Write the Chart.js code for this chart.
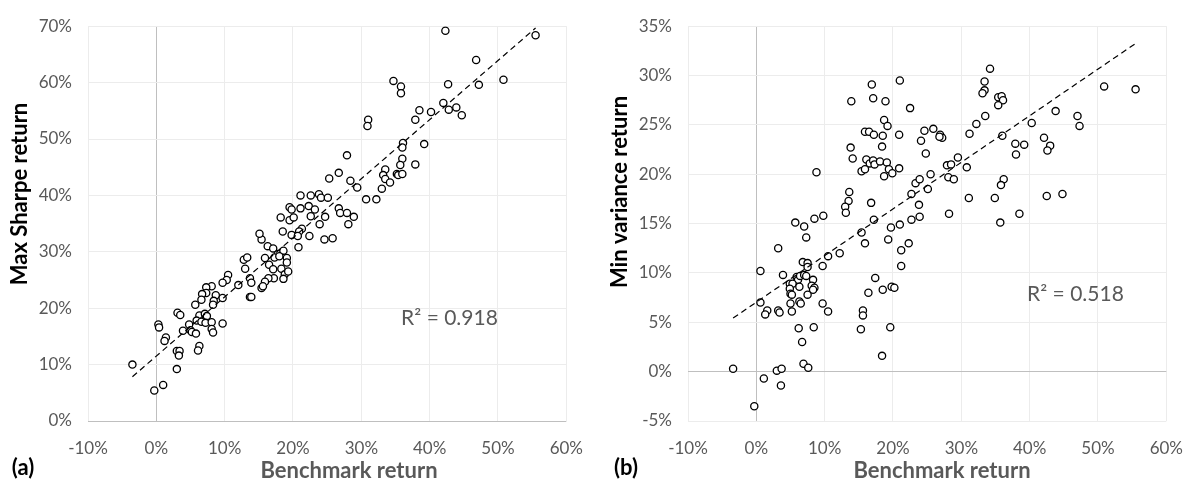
<!DOCTYPE html>
<html>
<head>
<meta charset="utf-8">
<title>Benchmark return vs portfolio return</title>
<script src="https://cdn.jsdelivr.net/npm/chart.js"></script>
<style>
  body { margin: 0; background: #fff; }
  .panel { position: absolute; top: 0; width: 600px; height: 488px; }
</style>
</head>
<body>
<div class="panel" style="left:0"><canvas id="chartA" width="600" height="488"></canvas></div>
<div class="panel" style="left:600px"><canvas id="chartB" width="600" height="488"></canvas></div>
<script>
// all values in percent
var xTicks = [-10, 0, 10, 20, 30, 40, 50, 60];
var yTicksA = [0, 10, 20, 30, 40, 50, 60, 70];
var yTicksB = [-5, 0, 5, 10, 15, 20, 25, 30, 35];

// (a) benchmark return vs max Sharpe return
var sharpeX = [42.3, 55.5, 46.8, 50.8, 42.7, 47.2, 34.7, 35.8, 35.8, 42.0, 42.8, 43.9, 44.7, 38.5, 40.2, 37.9,
  31.0, 30.9, 36.1, 36.0, 39.2, 27.9, 36.0, 35.7, 37.9, 26.7, 25.3, 28.4, 29.4, 33.5, 33.2, 33.5, 35.2, 35.4,
  36.0, 34.2, 33.0, 30.7, 32.2, 23.8, 24.1, 25.1, 26.7, 26.9, 27.9, 28.9, 28.1, 24.7, 23.9, 24.6, 25.8, 21.1,
  22.6, 19.5, 19.8, 21.1, 22.3, 23.2, 18.2, 19.5, 20.1, 22.6, 21.3, 18.5, 19.8, 20.9, 20.7, 22.4, 15.4, 15.1,
  16.3, 17.1, 20.8, 17.8, 17.3, 18.6, 19.1, 15.9, 16.5, 18.0, 19.1, 18.3, 17.1, 18.8, 19.3, 18.6, 17.2, 16.4,
  15.9, 15.4, 15.6, 12.8, 13.3, 13.0, 13.7, 13.9, 12.0, 13.7, 13.9, 10.5, 10.3, 9.7, 8.1, 7.3, 7.3, 6.7, 6.6,
  8.7, 9.7, 8.4, 8.3, 5.7, 3.1, 3.5, 0.3, 0.4, 6.3, 7.1, 7.4, 5.9, 6.6, 7.2, 8.1, 9.7, 4.8, 3.9, 5.0, 5.2,
  5.8, 8.1, 8.3, 1.4, 1.2, 6.3, 6.1, 3.0, 3.4, 3.3, -3.5, 3.0, 1.0, -0.3];
var sharpeY = [69.2, 68.4, 64.0, 60.5, 59.7, 59.6, 60.3, 59.3, 58.1, 56.4, 55.2, 55.6, 54.2, 55.1, 54.8, 53.4,
  53.4, 52.3, 49.3, 48.5, 49.1, 47.1, 46.5, 45.4, 45.5, 44.0, 43.0, 42.6, 41.4, 44.6, 43.6, 42.9, 43.8, 43.6,
  43.8, 42.3, 41.2, 39.3, 39.3, 40.2, 39.6, 39.6, 37.7, 36.9, 36.9, 36.2, 34.9, 36.2, 34.9, 32.2, 32.4, 40.0,
  40.0, 37.9, 37.5, 37.7, 38.1, 37.5, 36.1, 35.6, 36.1, 36.3, 34.1, 33.6, 33.0, 33.6, 32.8, 32.8, 32.2, 33.2,
  31.0, 30.6, 30.8, 29.6, 29.0, 30.2, 28.9, 28.9, 27.7, 29.2, 28.1, 27.0, 26.9, 26.0, 26.5, 25.2, 25.3, 25.3,
  24.7, 23.6, 23.9, 28.6, 29.0, 27.0, 25.3, 24.5, 24.1, 22.0, 22.0, 25.9, 25.0, 24.5, 23.9, 23.7, 22.7, 22.5, 21.5,
  22.3, 21.8, 21.3, 20.6, 20.6, 19.2, 18.8, 17.1, 16.6, 18.7, 19.0, 18.6, 17.8, 17.6, 17.4, 17.5, 17.3, 17.1, 16.0, 16.1, 15.8,
  15.5, 16.3, 15.7, 14.8, 14.2, 13.3, 12.5, 12.4, 12.4, 11.6, 10.0, 9.2, 6.4, 5.4];

// (b) benchmark return vs min variance return
var minVarX = [16.9, 21.0, 13.9, 17.1, 18.9, 22.5, 18.7, 19.2, 15.9, 16.5, 17.2, 18.5, 20.9, 24.1, 24.6, 18.4,
  13.8, 14.1, 16.1, 16.6, 17.1, 17.3, 18.1, 19.1, 19.4, 18.7, 19.9, 20.9, 15.4, 15.9, 8.8, 13.6, 13.5, 13.0,
  13.1, 16.8, 23.3, 23.9, 22.7, 23.8, 23.9, 22.7, 21.0, 19.7, 17.2, 15.4, 15.9, 19.3, 22.3, 9.8, 8.5, 5.7,
  7.0, 7.3, 3.2, 34.2, 33.4, 33.4, 33.1, 35.4, 35.9, 36.1, 35.4, 33.5, 32.2, 31.2, 25.9, 26.9, 27.2, 26.8,
  24.8, 36.0, 40.3, 43.8, 47.0, 47.3, 50.9, 55.5, 37.9, 39.2, 38.0, 42.1, 43.0, 42.6, 29.5, 27.9, 28.5, 30.8,
  25.5, 25.1, 28.1, 28.9, 36.2, 35.8, 31.1, 34.9, 42.5, 44.8, 28.2, 38.5, 35.7, 21.2, 21.2, 12.2, 10.5, 9.7,
  6.8, 7.5, 7.5, 0.6, 3.9, 5.9, 6.1, 6.4, 7.0, 7.3, 4.9, 5.3, 6.3, 8.3, 8.1, 8.5, 8.3, 4.9, 5.0, 5.2, 7.5,
  0.6, 5.0, 5.2, 6.3, 6.5, 9.7, 10.5, 1.6, 1.3, 3.2, 3.4, 15.6, 15.6, 16.4, 17.4, 18.5, 19.8, 20.2, 6.2, 8.4,
  15.3, 19.6, 6.7, 18.4, 6.9, 7.6, -3.4, 3.0, 3.7, 1.1, 3.6, -0.3];
var minVarY = [29.1, 29.5, 27.4, 27.7, 27.4, 26.7, 25.5, 24.9, 24.3, 24.3, 24.0, 23.9, 24.0, 23.4, 24.4, 22.8,
  22.7, 21.6, 21.5, 21.1, 21.4, 21.0, 21.3, 21.2, 20.5, 19.8, 20.1, 20.6, 20.3, 20.5, 20.2, 18.2, 17.3, 16.7,
  16.1, 17.1, 19.1, 19.5, 18.0, 16.9, 15.7, 15.4, 14.9, 14.6, 15.4, 14.1, 13.0, 13.4, 13.0, 15.8, 15.5, 15.1,
  14.7, 13.6, 12.5, 30.7, 29.4, 28.5, 28.2, 27.8, 27.9, 27.5, 27.0, 25.9, 25.1, 24.1, 24.6, 24.0, 23.7, 23.8,
  22.1, 23.9, 25.2, 26.4, 25.9, 24.9, 28.9, 28.6, 23.1, 23.0, 22.0, 23.7, 22.9, 22.4, 21.7, 20.9, 21.0, 20.7,
  20.0, 18.5, 19.7, 19.5, 19.5, 18.9, 17.6, 17.6, 17.8, 18.0, 16.0, 16.0, 15.1, 12.3, 10.7, 12.0, 11.7, 10.7,
  11.1, 11.0, 10.6, 10.2, 9.8, 9.6, 9.3, 9.7, 9.8, 9.7, 8.9, 8.9, 8.6, 9.3, 8.7, 8.5, 8.3, 8.4, 7.9, 7.8, 7.8,
  7.0, 6.9, 6.1, 7.1, 6.9, 6.9, 6.1, 6.2, 5.8, 6.2, 6.0, 6.2, 5.7, 8.0, 9.5, 8.3, 8.6, 8.5, 4.4, 4.5,
  4.3, 4.5, 3.0, 1.6, 0.8, 0.4, 0.3, 0.1, 0.3, -0.7, -1.4, -3.5];

var labelFont = 'Lato, "Open Sans", sans-serif';

// least squares line, like the Excel linear trendline
function linearFit(xs, ys) {
  var n = xs.length, sx = 0, sy = 0, sxx = 0, sxy = 0;
  for (var i = 0; i < n; i++) {
    sx += xs[i]; sy += ys[i]; sxx += xs[i] * xs[i]; sxy += xs[i] * ys[i];
  }
  var b = (n * sxy - sx * sy) / (n * sxx - sx * sx);
  return { a: (sy - b * sx) / n, b: b };
}

function gridColor(ctx) {
  return ctx.tick && ctx.tick.value === 0 ? '#bfbfbf' : '#ececec';
}

var panelText = {
  id: 'panelText',
  afterDraw: function(chart, args, o) {
    var ctx = chart.ctx;
    ctx.save();
    // y axis title
    ctx.translate(o.yTitleX, o.yTitleY);
    ctx.rotate(-Math.PI / 2);
    ctx.font = 'bold 22px ' + labelFont;
    ctx.fillStyle = '#000';
    ctx.textAlign = 'center';
    ctx.textBaseline = 'middle';
    ctx.fillText(o.yTitle, 0, 0);
    ctx.restore();

    ctx.save();
    ctx.textAlign = 'center';
    ctx.textBaseline = 'middle';
    ctx.font = 'bold 22px ' + labelFont;
    ctx.fillStyle = '#595959';
    ctx.fillText('Benchmark return', o.xTitleX, 471);
    ctx.fillStyle = '#000';
    ctx.fillText(o.letter, o.letterX, 468);
    ctx.font = '21px ' + labelFont;
    ctx.fillStyle = '#595959';
    ctx.fillText(o.r2, chart.scales.x.getPixelForValue(o.r2At[0]), chart.scales.y.getPixelForValue(o.r2At[1]));
    ctx.restore();
  }
};

function makeChart(id, xs, ys, yTicks, padRight, text) {
  var pts = xs.map(function(x, i) { return { x: x, y: ys[i] }; });
  var fit = linearFit(xs, ys);
  var lo = Math.min.apply(null, xs), hi = Math.max.apply(null, xs);
  var tickFont = { family: labelFont, size: 17 };
  return new Chart(document.getElementById(id), {
    type: 'scatter',
    data: {
      datasets: [{
        data: pts,
        pointRadius: 3.6,
        pointBorderWidth: 1.3,
        pointBorderColor: '#000',
        pointBackgroundColor: '#fff',
        order: 1
      }, {
        type: 'line',
        data: [{ x: lo, y: fit.a + fit.b * lo }, { x: hi, y: fit.a + fit.b * hi }],
        borderColor: '#000',
        borderWidth: 1.2,
        borderDash: [6, 4],
        pointRadius: 0,
        fill: false,
        order: 0
      }]
    },
    options: {
      responsive: false,
      animation: false,
      layout: { padding: { top: 13, right: padRight } },
      plugins: { legend: { display: false }, tooltip: { enabled: false }, panelText: text },
      scales: {
        x: {
          type: 'linear',
          min: xTicks[0], max: xTicks[xTicks.length - 1],
          afterBuildTicks: function(s) { s.ticks = xTicks.map(function(v) { return { value: v }; }); },
          afterFit: function(s) { s.height = 67; },
          ticks: { padding: 17, color: '#595959', font: tickFont, callback: function(v) { return v + '%'; } },
          grid: { drawTicks: false, color: gridColor },
          border: { display: false }
        },
        y: {
          type: 'linear',
          min: yTicks[0], max: yTicks[yTicks.length - 1],
          afterBuildTicks: function(s) { s.ticks = yTicks.map(function(v) { return { value: v }; }); },
          afterFit: function(s) { s.width = 88; },
          ticks: { padding: 16, color: '#595959', font: tickFont, callback: function(v) { return v + '%'; } },
          grid: { drawTicks: false, color: gridColor },
          border: { display: false }
        }
      }
    },
    plugins: [panelText]
  });
}

makeChart('chartA', sharpeX, sharpeY, yTicksA, 29, {
  yTitle: 'Max Sharpe return', yTitleX: 20, yTitleY: 194,
  xTitleX: 349, letter: '(a)', letterX: 23, r2: 'R² = 0.918', r2At: [42.9, 18.3]
});
makeChart('chartB', minVarX, minVarY, yTicksB, 27, {
  yTitle: 'Min variance return', yTitleX: 20, yTitleY: 192,
  xTitleX: 342, letter: '(b)', letterX: 26, r2: 'R² = 0.518', r2At: [46.7, 7.8]
});
</script>
</body>
</html>
